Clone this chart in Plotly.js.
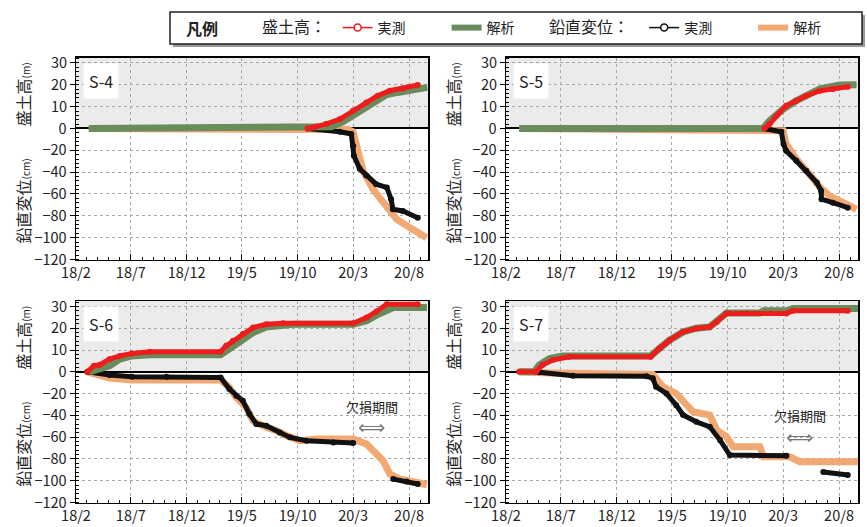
<!DOCTYPE html>
<html><head><meta charset="utf-8">
<script src="https://cdn.plot.ly/plotly-3.0.1.min.js"></script>
<style>html,body{margin:0;padding:0;background:#fff}#chart{width:867px;height:527px}</style>
</head><body><div id="chart"></div>
<script>
// ---------- data ----------
const panelNames = ['S-4', 'S-5', 'S-6', 'S-7'];

// S-4
const s4HeightMeasDates = ['2019-10-28','2019-11-20','2019-12-18','2020-01-25','2020-03-01','2020-04-06','2020-05-07','2020-06-09','2020-07-15','2020-08-25'];
const s4HeightMeas      = [0, 0.8, 2, 4.3, 8.1, 11.9, 15, 17.3, 18.3, 19.9];
const s4HeightAnaDates  = ['2018-03-08','2019-12-01','2020-01-01','2020-02-01','2020-03-01','2020-04-01','2020-05-01','2020-06-01','2020-07-01','2020-08-01','2020-08-25','2020-09-20'];
const s4HeightAna       = [0, 0, 0.8, 3, 6, 9.5, 13, 15.5, 16.5, 17.3, 18.5, 18.8];
const s4DispMeasDates   = ['2019-10-28','2019-12-25','2020-01-25','2020-02-25','2020-03-01','2020-03-03','2020-03-19','2020-04-06','2020-05-03','2020-06-01','2020-06-13','2020-06-18','2020-07-15','2020-08-25'];
const s4DispMeas        = [0, -1.5, -3, -5, -15.9, -25, -37, -43, -51, -54, -64.8, -74, -75.5, -81.7];
const s4DispAnaDates    = ['2018-03-08','2020-02-15','2020-03-01','2020-03-04','2020-03-13','2020-03-28','2020-04-24','2020-06-01','2020-06-28','2020-08-03','2020-09-18'];
const s4DispAna         = [0, -1, -3, -6.7, -22, -38.8, -55.6, -70.9, -83, -90.8, -100];

// S-5
const s5HeightMeasDates = ['2020-01-10','2020-01-24','2020-02-12','2020-03-09','2020-04-06','2020-05-03','2020-06-10','2020-07-15','2020-08-25'];
const s5HeightMeas      = [0, 2, 5.8, 10.4, 12.7, 15, 17.3, 18.1, 19.1];
const s5HeightAnaDates  = ['2018-03-09','2020-01-06','2020-01-24','2020-03-01','2020-04-06','2020-05-12','2020-06-10','2020-08-03','2020-09-18'];
const s5HeightAna       = [0, 0, 3.5, 8.9, 12.7, 15.8, 18.1, 19.9, 20];
const s5DispMeasDates   = ['2020-01-15','2020-02-25','2020-03-02','2020-03-09','2020-04-06','2020-05-03','2020-06-01','2020-06-13','2020-06-14','2020-07-15','2020-08-25'];
const s5DispMeas        = [-0.5, -3, -14.3, -20.5, -29.6, -38.8, -49.5, -57, -64.8, -68, -72.5];
const s5DispAnaDates    = ['2018-03-09','2020-03-01','2020-03-09','2020-04-06','2020-05-12','2020-06-10','2020-07-06','2020-08-12','2020-09-18'];
const s5DispAna         = [0, -2, -14.3, -28, -41.8, -54, -61.7, -67.9, -74];

// S-6
const s6HeightMeasDates = ['2018-03-04','2018-03-22','2018-04-07','2018-05-04','2018-06-01','2018-07-04','2018-08-22','2019-03-04','2019-03-19','2019-04-07','2019-05-04','2019-06-01','2019-07-07','2019-08-22','2020-03-01','2020-04-07','2020-05-04','2020-06-01','2020-08-25'];
const s6HeightMeas      = [0, 2.75, 3.2, 5.8, 7.3, 8.4, 9.2, 9.2, 11.9, 14.2, 17.3, 20.3, 21.8, 22.3, 22.3, 24.9, 27.7, 31, 31];
const s6HeightAnaDates  = ['2018-03-10','2018-05-04','2018-06-01','2018-07-04','2018-08-22','2019-03-04','2019-03-28','2019-05-04','2019-06-01','2019-07-07','2019-09-19','2020-03-01','2020-04-07','2020-05-04','2020-06-19','2020-09-19'];
const s6HeightAna       = [0, 2.75, 5.8, 7.3, 7.8, 7.8, 10.5, 15, 18, 20.5, 21.8, 21.8, 23.5, 26, 29.5, 29.5];
const s6DispMeasDates   = ['2018-03-04','2018-05-04','2018-07-04','2018-10-07','2019-03-04','2019-03-28','2019-04-16','2019-05-04','2019-05-22','2019-06-10','2019-07-07','2019-08-13','2019-09-10','2019-10-25','2020-01-07','2020-03-01','2020-04-20','2020-06-19','2020-07-25','2020-08-25'];
const s6DispMeas        = [0, -3, -4.6, -4.6, -5.2, -15.9, -22, -26.6, -38.8, -48, -49.5, -55.7, -60.2, -63.3, -64.9, -65.4, null, -98.5, -100.7, -103];
const s6DispAnaDates    = ['2018-03-04','2018-05-04','2018-07-04','2019-03-04','2019-03-28','2019-04-16','2019-05-13','2019-06-01','2019-07-07','2019-08-04','2019-09-01','2019-10-07','2019-11-22','2020-03-01','2020-04-07','2020-05-04','2020-05-22','2020-06-10','2020-07-07','2020-08-22','2020-09-19'];
const s6DispAna         = [0, -5.8, -7.6, -7.6, -14.4, -23.5, -32.7, -45, -51, -54, -58.7, -63.3, -61.8, -61.8, -66.4, -75.6, -81.7, -93.9, -98.5, -101.6, -103.7];

// S-7
const s7HeightMeasDates = ['2018-03-09','2018-04-24','2018-05-12','2018-06-09','2018-07-24','2019-03-04','2019-03-28','2019-04-25','2019-06-01','2019-07-07','2019-08-13','2019-09-01','2019-09-28','2020-03-10','2020-03-28','2020-08-25'];
const s7HeightMeas      = [0, 0, 3.1, 5.4, 6.9, 6.9, 10.7, 14.5, 18.3, 19.9, 20.6, 22.9, 26.8, 26.8, 28, 28];
const s7HeightAnaDates  = ['2018-03-09','2018-04-20','2018-05-03','2018-05-31','2018-07-06','2019-03-04','2019-03-28','2019-04-25','2019-06-01','2019-07-07','2019-08-13','2019-09-01','2019-09-28','2019-12-28','2020-01-07','2020-03-10','2020-03-28','2020-09-22'];
const s7HeightAna       = [0, 0, 3.1, 6.1, 7.2, 7.2, 10.7, 14.5, 18.3, 20, 20.6, 23, 27, 27, 28, 28, 29, 29];
const s7DispMeasDates   = ['2018-05-03','2018-08-03','2019-02-21','2019-03-10','2019-03-19','2019-04-16','2019-05-13','2019-06-01','2019-07-07','2019-08-13','2019-09-10','2019-10-07','2020-03-10','2020-04-20','2020-06-19','2020-08-25'];
const s7DispMeas        = [-0.5, -3.6, -4, -6, -13.8, -19.9, -30.6, -39.7, -45.9, -50.5, -62.7, -76.4, -77, null, -92, -94.8];
const s7DispAnaDates    = ['2018-03-09','2018-06-01','2019-03-10','2019-04-07','2019-05-13','2019-06-01','2019-06-28','2019-08-13','2019-09-01','2019-09-28','2019-10-16','2019-12-28','2020-01-07','2020-03-19','2020-04-16','2020-09-22'];
const s7DispAna         = [0, -1, -2.5, -13.8, -19.9, -26, -36.7, -39.7, -53.5, -59.6, -68.8, -68.8, -78, -78, -82.6, -82.6];

// ticks / labels
const cmTickVals = [0, -20, -40, -60, -80, -100, -120];
const mTickVals  = [10, 20, 30];
const cmRange = [-120, 65];
const mRange  = [-60, 32.5];
const xRange  = ['2018-02-01', '2020-09-22'];
const xTick0  = '2018-02-01';
const heightTitle = '盛土高<span style="font-size:10px">(m)</span>';
const dispTitle   = '鉛直変位<span style="font-size:10px">(cm)</span>';
const gapLabel = '欠損期間';
const gapLabelDates = [null, null, '2020-04-21', '2020-04-16'];
const gapLabelY = [null, null, -32, -40.5];
const gapArrowY = [null, null, -51, -60];

const panels = [
  {hmD: s4HeightMeasDates, hm: s4HeightMeas, haD: s4HeightAnaDates, ha: s4HeightAna, dmD: s4DispMeasDates, dm: s4DispMeas, daD: s4DispAnaDates, da: s4DispAna},
  {hmD: s5HeightMeasDates, hm: s5HeightMeas, haD: s5HeightAnaDates, ha: s5HeightAna, dmD: s5DispMeasDates, dm: s5DispMeas, daD: s5DispAnaDates, da: s5DispAna},
  {hmD: s6HeightMeasDates, hm: s6HeightMeas, haD: s6HeightAnaDates, ha: s6HeightAna, dmD: s6DispMeasDates, dm: s6DispMeas, daD: s6DispAnaDates, da: s6DispAna},
  {hmD: s7HeightMeasDates, hm: s7HeightMeas, haD: s7HeightAnaDates, ha: s7HeightAna, dmD: s7DispMeasDates, dm: s7DispMeas, daD: s7DispAnaDates, da: s7DispAna},
];

// ---------- style ----------
const W = 867, H = 527;
const FONT = '"Noto Sans CJK JP", "Noto Sans", sans-serif';
const RED = '#ee1c1c', GREEN = '#6a8c5c', BLACK = '#111111', ORANGE = '#f2a872';
const boxes = [
  {x: [76, 428], y: [57.5, 259.5]},
  {x: [506, 858], y: [57.5, 259.5]},
  {x: [76, 428], y: [301, 502.5]},
  {x: [506, 858], y: [301, 502.5]},
];

const traces = [];
const layout = {
  width: W, height: H,
  margin: {l: 0, r: 0, t: 0, b: 0},
  paper_bgcolor: '#fff', plot_bgcolor: '#fff',
  font: {family: FONT, color: '#222'},
  showlegend: true,
  shapes: [], annotations: [],
};

panels.forEach((p, i) => {
  const n = i + 1;
  const xs = n === 1 ? '' : String(n);
  const ycm = 2 * n - 1, ym = 2 * n;
  const ycmS = ycm === 1 ? '' : String(ycm);
  const xId = 'x' + xs, yCmId = 'y' + ycmS, yMId = 'y' + ym;
  const b = boxes[i];
  const xdom = [b.x[0] / W, b.x[1] / W];
  const ydom = [1 - b.y[1] / H, 1 - b.y[0] / H];

  layout['xaxis' + xs] = {
    type: 'date', domain: xdom, anchor: yCmId, range: xRange,
    tick0: xTick0, dtick: 'M5', tickformat: '%y/%-m',
    ticks: 'inside', ticklen: 6, tickcolor: '#000', tickwidth: 1,
    tickfont: {size: 14.5, family: FONT, color: '#222'},
    showgrid: true, gridcolor: '#a8a8a8', griddash: 'dot', gridwidth: 1,
    showline: true, linecolor: '#000', linewidth: 1.5, mirror: true,
    zeroline: false, fixedrange: true,
    minor: {dtick: 'M1', tick0: xTick0, ticks: 'inside', ticklen: 3, tickcolor: '#000', showgrid: false},
  };
  layout['yaxis' + ycmS] = {
    domain: ydom, anchor: xId, range: cmRange,
    tickmode: 'array', tickvals: cmTickVals,
    ticks: 'outside', ticklen: 5, tickcolor: '#000',
    tickfont: {size: 14.5, family: FONT, color: '#222'},
    showgrid: true, gridcolor: '#a8a8a8', griddash: 'dot', gridwidth: 1,
    zeroline: true, zerolinecolor: '#000', zerolinewidth: 2,
    showline: true, linecolor: '#000', linewidth: 1.5, mirror: true,
    fixedrange: true,
    minor: {tickmode: 'linear', tick0: 0, dtick: 4, ticks: 'inside', ticklen: 3, tickcolor: '#000', showgrid: false},
  };
  layout['yaxis' + ym] = {
    overlaying: yCmId, anchor: xId, side: 'left', range: mRange,
    tickmode: 'array', tickvals: mTickVals,
    ticks: 'outside', ticklen: 5, tickcolor: '#000',
    tickfont: {size: 14.5, family: FONT, color: '#222'},
    showgrid: true, gridcolor: '#a8a8a8', griddash: 'dot', gridwidth: 1,
    zeroline: false, showline: false, fixedrange: true,
  };

  // grey band above zero
  layout.shapes.push({
    type: 'rect', xref: xId + ' domain', x0: 0, x1: 1,
    yref: yMId, y0: 0, y1: mRange[1],
    fillcolor: '#ebebeb', line: {width: 0}, layer: 'below',
  });

  // traces: displacement (cm axis), then height (m axis)
  traces.push({x: p.daD, y: p.da, xaxis: xId, yaxis: yCmId, mode: 'lines',
    line: {color: ORANGE, width: 7}, showlegend: false, hoverinfo: 'skip'});
  traces.push({x: p.dmD, y: p.dm, xaxis: xId, yaxis: yCmId, mode: 'lines+markers',
    line: {color: BLACK, width: 5}, marker: {color: BLACK, size: 6}, showlegend: false, hoverinfo: 'skip'});
  traces.push({x: p.haD, y: p.ha, xaxis: xId, yaxis: yMId, mode: 'lines',
    line: {color: GREEN, width: 7}, showlegend: false, hoverinfo: 'skip'});
  traces.push({x: p.hmD, y: p.hm, xaxis: xId, yaxis: yMId, mode: 'lines+markers',
    line: {color: RED, width: 5}, marker: {color: RED, size: 6}, showlegend: false, hoverinfo: 'skip'});

  // panel label
  layout.annotations.push({
    text: panelNames[i], xref: xId + ' domain', yref: yCmId + ' domain',
    x: 0.02, y: 0.975, xanchor: 'left', yanchor: 'top', showarrow: false,
    bgcolor: '#fff', borderpad: 5, font: {size: 16, family: FONT, color: '#222'},
  });
  // axis titles
  const tx = (b.x[0] - 53) / W;
  const zeroPx = b.y[0] + (b.y[1] - b.y[0]) * (cmRange[1] / (cmRange[1] - cmRange[0]));
  layout.annotations.push({
    text: heightTitle, xref: 'paper', yref: 'paper', x: tx, y: 1 - (zeroPx - 34) / H,
    xanchor: 'center', yanchor: 'middle',
    textangle: -90, showarrow: false, font: {size: 16, family: FONT, color: '#222'},
  });
  layout.annotations.push({
    text: dispTitle, xref: 'paper', yref: 'paper', x: tx, y: 1 - (zeroPx + 73) / H,
    xanchor: 'center', yanchor: 'middle',
    textangle: -90, showarrow: false, font: {size: 16, family: FONT, color: '#222'},
  });
  if (gapLabelDates[i]) {
    layout.annotations.push({
      text: gapLabel, xref: xId, yref: yCmId, x: gapLabelDates[i], y: gapLabelY[i],
      showarrow: false, font: {size: 13, family: FONT, color: '#222'},
    });
    layout.annotations.push({
      text: '⟺', xref: xId, yref: yCmId, x: gapLabelDates[i], y: gapArrowY[i],
      showarrow: false, font: {size: 19, family: '"DejaVu Sans", sans-serif', color: '#777'},
    });
  }
});

// ---------- legend ----------
traces.push({x: [null], y: [null], name: '実測', mode: 'lines+markers', legend: 'legend',
  line: {color: RED, width: 1.5}, marker: {color: '#fff', size: 7, line: {color: RED, width: 1.5}}});
traces.push({x: [null], y: [null], name: '解析', mode: 'lines', legend: 'legend',
  line: {color: GREEN, width: 6}});
traces.push({x: [null], y: [null], name: '実測', mode: 'lines+markers', legend: 'legend2',
  line: {color: BLACK, width: 1.5}, marker: {color: '#fff', size: 7, line: {color: BLACK, width: 1.5}}});
traces.push({x: [null], y: [null], name: '解析', mode: 'lines', legend: 'legend2',
  line: {color: ORANGE, width: 6}});

const legendCommon = {
  orientation: 'h', yanchor: 'middle', xanchor: 'left', y: 1 - 28 / H,
  bgcolor: 'rgba(0,0,0,0)', borderwidth: 0,
  font: {size: 14, family: FONT, color: '#222'},
  entrywidth: 64, entrywidthmode: 'pixels', itemclick: false, itemdoubleclick: false,
};
layout.legend = Object.assign({}, legendCommon, {x: 260 / W,
  title: {text: '盛土高：\u00a0', side: 'left', font: {size: 16, family: FONT, color: '#222'}}});
layout.legend2 = Object.assign({}, legendCommon, {x: 547 / W,
  title: {text: '鉛直変位：\u00a0\u00a0', side: 'left', font: {size: 16, family: FONT, color: '#222'}}});

// legend frame
layout.shapes.push({type: 'rect', xref: 'paper', yref: 'paper',
  x0: 173 / W, x1: 865 / W, y0: 1 - 47 / H, y1: 1 - 15 / H,
  fillcolor: '#999', line: {width: 0}, layer: 'above'});
layout.shapes.push({type: 'rect', xref: 'paper', yref: 'paper',
  x0: 170 / W, x1: 862 / W, y0: 1 - 44 / H, y1: 1 - 12 / H,
  fillcolor: '#fff', line: {color: '#222', width: 1.5}, layer: 'above'});
layout.annotations.push({text: '<b>凡例</b>', xref: 'paper', yref: 'paper',
  x: 184 / W, y: 1 - 28 / H, xanchor: 'left', yanchor: 'middle', showarrow: false,
  font: {size: 16, family: FONT, color: '#222'}});

Plotly.newPlot('chart', traces, layout, {staticPlot: true, displayModeBar: false});
</script>
</body></html>
